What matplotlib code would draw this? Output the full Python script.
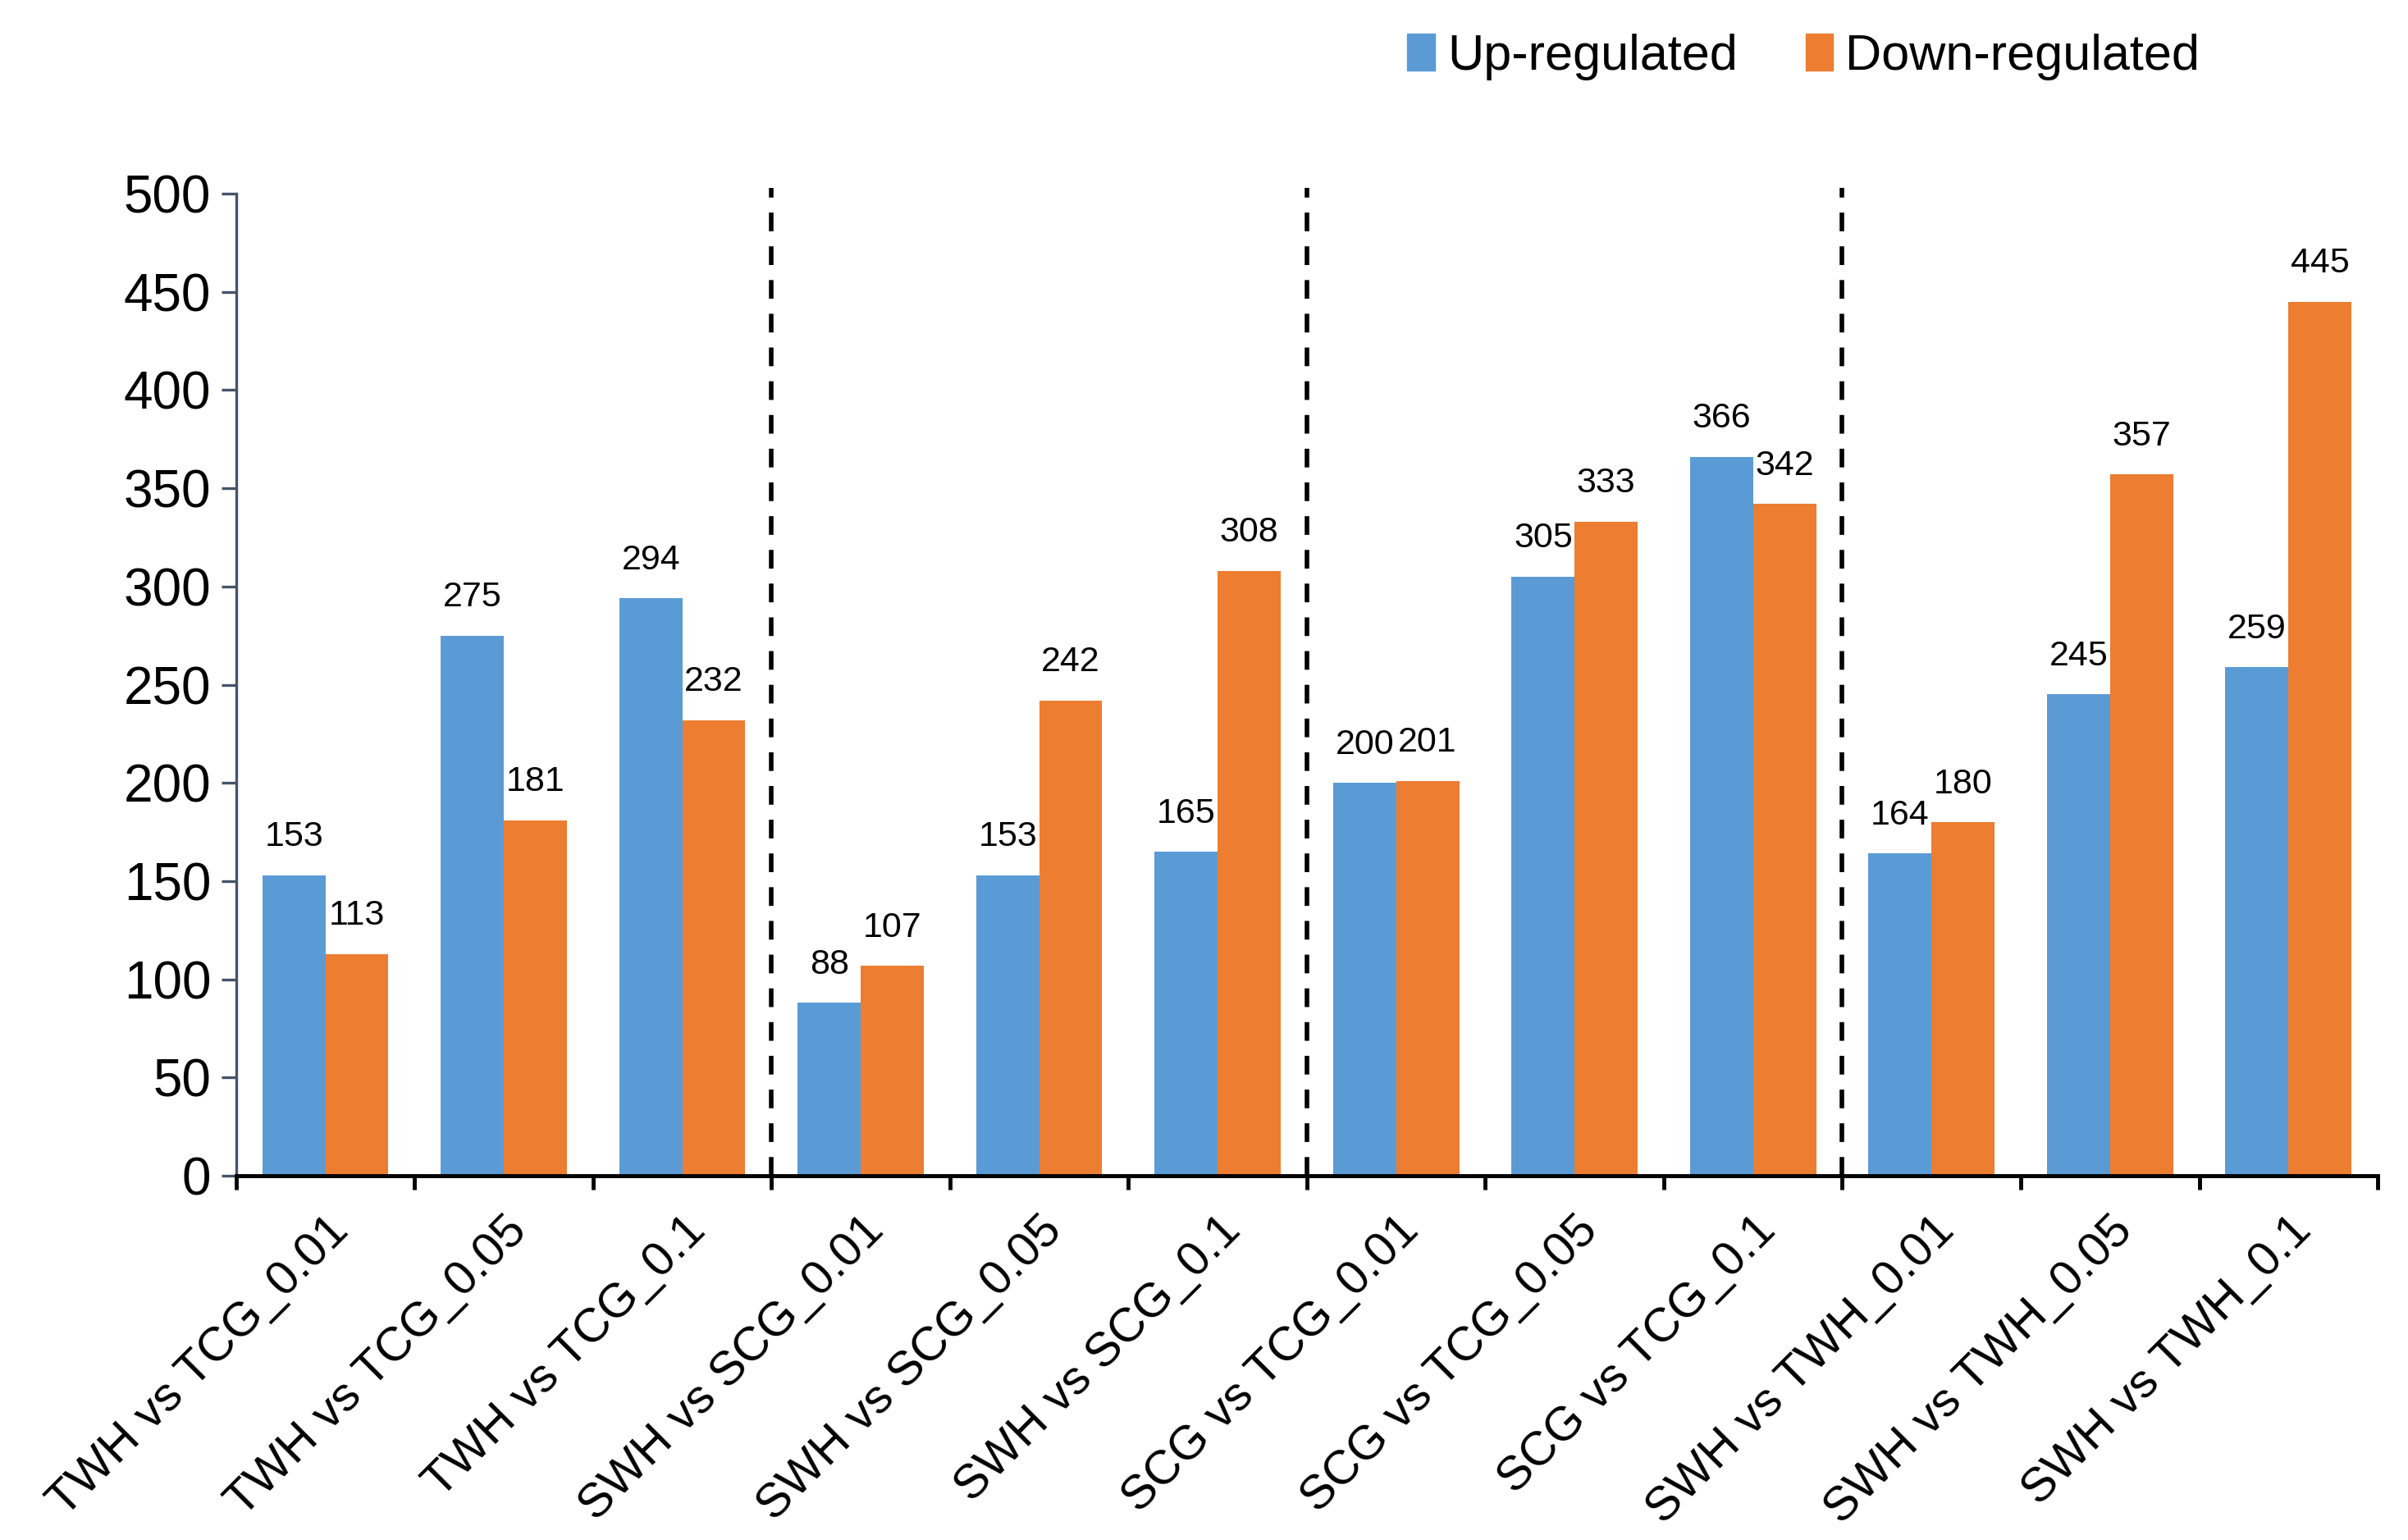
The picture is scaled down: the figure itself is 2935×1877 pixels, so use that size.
import matplotlib
matplotlib.use("Agg")
import matplotlib.pyplot as plt
import matplotlib.transforms as mtransforms
from matplotlib.patches import Patch
import numpy as np

plt.rcParams["font.family"] = ["Liberation Sans", "DejaVu Sans"]

# data
comparisons = [
    "TWH vs TCG_0.01", "TWH vs TCG_0.05", "TWH vs TCG_0.1",
    "SWH vs SCG_0.01", "SWH vs SCG_0.05", "SWH vs SCG_0.1",
    "SCG vs TCG_0.01", "SCG vs TCG_0.05", "SCG vs TCG_0.1",
    "SWH vs TWH_0.01", "SWH vs TWH_0.05", "SWH vs TWH_0.1",
]
up_regulated = [153, 275, 294, 88, 153, 165, 200, 305, 366, 164, 245, 259]
down_regulated = [113, 181, 232, 107, 242, 308, 201, 333, 342, 180, 357, 445]
group_breaks = [3, 6, 9]
y_ticks = [0, 50, 100, 150, 200, 250, 300, 350, 400, 450, 500]

BLUE = "#5B9BD5"
ORANGE = "#ED7D31"
SLATE = "#44546A"

fig = plt.figure(figsize=(29.35, 18.77), dpi=100)
ax = fig.add_axes([0.0981, 0.2365, 0.8893, 0.6378])

centers = np.arange(len(comparisons)) + 0.5
width = 0.353

bars_up = ax.bar(centers - width / 2, up_regulated, width, color=BLUE, label="Up-regulated")
bars_down = ax.bar(centers + width / 2, down_regulated, width, color=ORANGE, label="Down-regulated")

for bars, vals in [(bars_up, up_regulated), (bars_down, down_regulated)]:
    for b, v in zip(bars, vals):
        ax.annotate(str(v), (b.get_x() + b.get_width() / 2, v), xytext=(0, 19),
                    textcoords="offset points", ha="center", va="bottom", fontsize=31)

# dashed separators between comparison groups
for xb in group_breaks:
    ax.plot([xb, xb], [0, 503], color="black", lw=4, linestyle=(0, (4.1, 3.3)),
            clip_on=False, zorder=3)

ax.set_xlim(0, len(comparisons))
ax.set_ylim(0, 500)
ax.set_yticks(y_ticks)
ax.tick_params(axis="y", labelsize=46, length=13, width=2.4, color=SLATE, pad=9)

ax.set_xticks(centers)
ax.set_xticklabels(comparisons, rotation=45, ha="right", va="center",
                   rotation_mode="anchor", fontsize=42)
ax.tick_params(axis="x", which="major", length=0, pad=42)
shift = mtransforms.ScaledTranslation(14 / 72, 0, fig.dpi_scale_trans)
for lbl in ax.get_xticklabels():
    lbl.set_transform(lbl.get_transform() + shift)
ax.set_xticks(np.arange(len(comparisons) + 1), minor=True)
ax.tick_params(axis="x", which="minor", length=12, width=3.5, color="black")

for side in ["top", "right"]:
    ax.spines[side].set_visible(False)
ax.spines["left"].set_color(SLATE)
ax.spines["left"].set_linewidth(2.4)
ax.spines["bottom"].set_color("black")
ax.spines["bottom"].set_linewidth(3.5)
ax.spines["bottom"].set_zorder(4)

handles = [Patch(color=BLUE, label="Up-regulated"), Patch(color=ORANGE, label="Down-regulated")]
fig.legend(handles=handles, loc="center", bbox_to_anchor=(0.749, 0.963), ncol=2,
           frameon=False, fontsize=44, handlelength=0.55, handleheight=0.75,
           handletextpad=0.25, columnspacing=1.35)

fig.savefig("out.png", dpi=100)
